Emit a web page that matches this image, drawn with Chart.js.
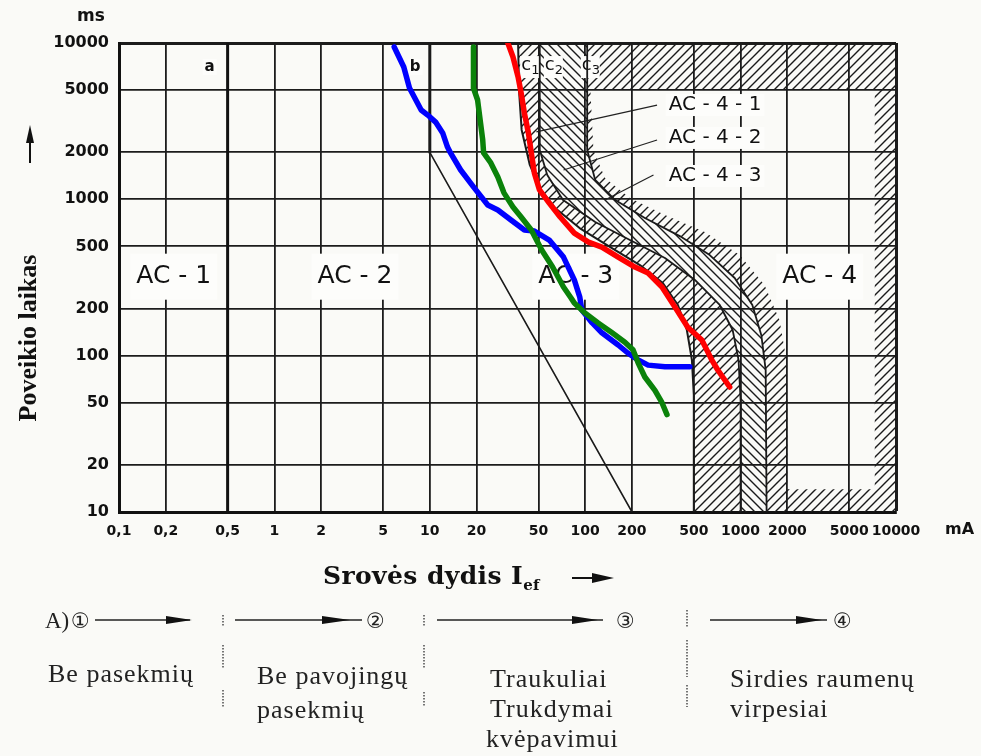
<!DOCTYPE html>
<html>
<head>
<meta charset="utf-8"/>
<style>
  html,body{margin:0;padding:0;background:#fafaf7;}
  #wrap{position:absolute;left:0;top:0;width:981px;height:756px;}
  #over{position:absolute;left:0;top:0;pointer-events:none;}
  .bt{font-family:"Liberation Serif",serif;font-size:26px;fill:#222;letter-spacing:1px;}
  .num{font-family:"DejaVu Sans",sans-serif;font-size:21px;fill:#222;}
</style>
</head>
<body>
<div id="wrap"><canvas id="c"></canvas></div>

<svg id="over" width="981" height="756" xmlns="http://www.w3.org/2000/svg">
  <!-- y axis title + arrow -->
  <text transform="translate(36,338) rotate(-90)" text-anchor="middle"
        font-family="Liberation Serif" font-weight="bold" font-size="26" fill="#111">Poveikio laikas</text>
  <line x1="30" y1="163" x2="30" y2="138" stroke="#111" stroke-width="2"/>
  <polygon points="26,143 30,125 34,143" fill="#111"/>

  <!-- x axis title + arrow -->
  <text x="323" y="584" font-family="DejaVu Serif" font-weight="bold" font-size="25" letter-spacing="0.4" fill="#111">Srovės dydis I<tspan font-size="15" dy="6">ef</tspan></text>
  <line x1="572" y1="578" x2="600" y2="578" stroke="#111" stroke-width="2"/>
  <polygon points="592,573 614,578 592,583" fill="#111"/>

  <!-- A) row -->
  <text x="45" y="628" font-family="Liberation Serif" font-size="23" fill="#222">A)</text>
  <text class="num" x="71" y="628">①</text>
  <line x1="95" y1="620" x2="190" y2="620" stroke="#222" stroke-width="1.6"/>
  <polygon points="166,616 192,620 166,624" fill="#111"/>

  <line x1="235" y1="620" x2="362" y2="620" stroke="#222" stroke-width="1.6"/>
  <polygon points="322,616 350,620 322,624" fill="#111"/>
  <text class="num" x="366" y="628">②</text>

  <line x1="437" y1="620" x2="603" y2="620" stroke="#222" stroke-width="1.6"/>
  <polygon points="572,616 598,620 572,624" fill="#111"/>
  <text class="num" x="616" y="628">③</text>

  <line x1="710" y1="620" x2="827" y2="620" stroke="#222" stroke-width="1.6"/>
  <polygon points="796,616 822,620 796,624" fill="#111"/>
  <text class="num" x="833" y="628">④</text>

  <!-- dotted separators -->
  <g stroke="#555" stroke-width="1.6" stroke-dasharray="1.5 1.5">
    <line x1="223" y1="615" x2="223" y2="626"/>
    <line x1="223" y1="645" x2="223" y2="668"/>
    <line x1="223" y1="690" x2="223" y2="707"/>
    <line x1="424" y1="615" x2="424" y2="626"/>
    <line x1="424" y1="645" x2="424" y2="669"/>
    <line x1="424" y1="692" x2="424" y2="707"/>
    <line x1="687" y1="610" x2="687" y2="628"/>
    <line x1="687" y1="640" x2="687" y2="677"/>
    <line x1="687" y1="685" x2="687" y2="707"/>
  </g>

  <!-- consequences -->
  <text class="bt" x="48" y="682">Be pasekmių</text>
  <text class="bt" x="257" y="684">Be pavojingų</text>
  <text class="bt" x="257" y="718">pasekmių</text>
  <text class="bt" x="490" y="687">Traukuliai</text>
  <text class="bt" x="490" y="717">Trukdymai</text>
  <text class="bt" x="486" y="747">kvėpavimui</text>
  <text class="bt" x="730" y="687">Sirdies raumenų</text>
  <text class="bt" x="730" y="717">virpesiai</text>
</svg>

<script src="https://cdn.jsdelivr.net/npm/chart.js@4.4.0/dist/chart.umd.min.js"></script>
<script>
// axis ticks
const xTicks      = [0.1, 0.2, 0.5, 1, 2, 5, 10, 20, 50, 100, 200, 500, 1000, 2000, 5000, 10000];
const xTickLabels = ['0,1','0,2','0,5','1','2','5','10','20','50','100','200','500','1000','2000','5000','10000'];
const yTicks      = [10, 20, 50, 100, 200, 500, 1000, 2000, 5000, 10000];
const yTickLabels = ['10','20','50','100','200','500','1000','2000','5000','10000'];

// coloured curves (mA , ms)
const blueX  = [5.9, 6.8, 7.4, 8.8, 9.7, 10.9, 12.1, 13.0, 13.6, 15.8, 19.1, 23.6, 27.4, 33.3, 40.6, 47.1, 58.7, 72.5, 85.1, 92.3, 95.1, 111, 128, 163, 188, 219, 254, 326, 471];
const blueY  = [9430, 7020, 5150, 3730, 3460, 3120, 2660, 2160, 1980, 1540, 1200, 919, 855, 737, 637, 627, 549, 427, 305, 237, 196, 162, 140, 117, 104, 94, 87, 85, 85];
const greenX = [19.1, 19.1, 19.1, 20.3, 21.2, 21.9, 22.2, 24.7, 27.4, 30.0, 34.3, 38.7, 45.0, 52.5, 61.7, 72.5, 81.1, 85.1, 100, 121, 149, 180, 203, 219, 242, 281, 312, 336];
const greenY = [9430, 7020, 5150, 4320, 3080, 2400, 1980, 1710, 1390, 1100, 893, 771, 637, 474, 369, 275, 234, 217, 187, 162, 140, 122, 109, 90, 73, 60, 50, 42];
const redX   = [31.8, 34.3, 37.0, 38.7, 40.6, 43.1, 45.0, 47.1, 50.8, 58.7, 69.0, 85.1, 105, 128, 163, 209, 254, 312, 378, 457, 563, 652, 713, 851];
const redY   = [10000, 8130, 6060, 4790, 3570, 2660, 1980, 1470, 1150, 947, 771, 608, 533, 495, 427, 369, 338, 275, 205, 152, 126, 94, 81, 63];

// zone boundaries
const aX  = [0.5, 0.5];
const aY  = [10, 10000];
const bX  = [10, 10, 200];
const bY  = [10000, 2000, 10];
const c1X = [37, 37.5, 39, 44, 51, 64, 92, 145, 225, 316, 395, 451, 486, 500, 500];
const c1Y = [10000, 5000, 2780, 1660, 1180, 880, 655, 495, 380, 291, 211, 146, 94, 56, 10];
const c2X = [51, 51, 57, 72, 116, 194, 326, 508, 734, 889, 970, 1000, 1000];
const c2Y = [10000, 2070, 1430, 990, 716, 549, 421, 305, 211, 146, 94, 52, 10];
const c3X = [103, 103, 116, 156, 242, 406, 633, 916, 1190, 1360, 1450, 1470];
const c3Y = [10000, 2070, 1330, 990, 759, 582, 440, 314, 211, 135, 81, 10];
// inner edge of the hatched rim of AC-4.3
const rimX = [108, 113, 134, 194, 326, 588, 986, 1425, 1780, 1970, 2000, 2000, 7300, 7300];
const rimY = [5000, 2070, 1370, 1020, 794, 618, 440, 283, 169, 94, 52, 14, 14, 5000];

// labels
const zoneNames = ['AC - 1', 'AC - 2', 'AC - 3', 'AC - 4'];
const zoneX     = [0.225, 3.3, 87, 3230];
const zoneY     = [320, 320, 320, 320];
const curveNames = ['a', 'b'];
const curveX     = [0.383, 8.05];
const curveY     = [7020, 7020];
const cNames = ['1', '2', '3'];
const cX     = [38.7, 55, 95];
const cY     = [7120, 7120, 7120];
const subNames = ['AC - 4 - 1', 'AC - 4 - 2', 'AC - 4 - 3'];
const subX     = [345, 345, 345];
const subY     = [4010, 2470, 1410];
const leadFromX = [290, 290, 275];
const leadFromY = [4010, 2395, 1430];
const leadToX   = [48.5, 72.5, 134];
const leadToY   = [2700, 1540, 990];

const pts = (xs, ys) => xs.map((v, i) => ({ x: v, y: ys[i] }));
const line = (xs, ys, color, w, extra) => Object.assign({
  data: pts(xs, ys), showLine: true, borderColor: color, borderWidth: w,
  pointRadius: 0, tension: 0, fill: false, borderCapStyle: 'round', borderJoinStyle: 'round'
}, extra || {});

function hatch(ctx, dir) {
  const c = document.createElement('canvas');
  const n = 9;
  c.width = c.height = n;
  const g = c.getContext('2d');
  g.strokeStyle = '#1a1a1a'; g.lineWidth = 1.4;
  g.beginPath();
  if (dir > 0) {
    g.moveTo(0, n); g.lineTo(n, 0);
    g.moveTo(-2, 2); g.lineTo(2, -2);
    g.moveTo(n - 2, n + 2); g.lineTo(n + 2, n - 2);
  } else {
    g.moveTo(0, 0); g.lineTo(n, n);
    g.moveTo(-2, n - 2); g.lineTo(2, n + 2);
    g.moveTo(n - 2, -2); g.lineTo(n + 2, 2);
  }
  g.stroke();
  return ctx.createPattern(c, 'repeat');
}

const hatchPlugin = {
  id: 'hatch',
  beforeDatasetsDraw(chart) {
    const { ctx, chartArea: a, scales: { x, y } } = chart;
    const P = (xs, ys) => xs.map((v, i) => [x.getPixelForValue(v), y.getPixelForValue(ys[i])]);
    const trace = p => p.forEach(([px, py], i) => i ? ctx.lineTo(px, py) : ctx.moveTo(px, py));
    ctx.save();
    ctx.beginPath(); ctx.rect(a.left, a.top, a.right - a.left, a.bottom - a.top); ctx.clip();
    // c1 .. c2
    ctx.beginPath(); trace(P(c1X, c1Y).concat(P(c2X, c2Y).reverse())); ctx.closePath();
    ctx.fillStyle = hatch(ctx, 1); ctx.fill();
    // c2 .. c3
    ctx.beginPath(); trace(P(c2X, c2Y).concat(P(c3X, c3Y).reverse())); ctx.closePath();
    ctx.fillStyle = hatch(ctx, -1); ctx.fill();
    // rim of AC-4.3
    ctx.beginPath();
    trace(P(c3X, c3Y).concat(P([x.max, x.max], [y.min, y.max]))); ctx.closePath();
    trace(P(rimX, rimY)); ctx.closePath();
    ctx.fillStyle = hatch(ctx, 1); ctx.fill('evenodd');
    ctx.restore();
  }
};

const labelPlugin = {
  id: 'labels',
  beforeDatasetsDraw(chart) {
    const { ctx, scales: { x, y } } = chart;
    ctx.save();
    ctx.textBaseline = 'middle';
    const boxed = (t, px, py, font, align, h, pad) => {
      ctx.font = font;
      const w = ctx.measureText(t).width;
      const left = align === 'center' ? px - w / 2 : px;
      ctx.fillStyle = '#fdfdfb';
      ctx.fillRect(left - pad, py - h / 2, w + pad * 2, h);
      ctx.fillStyle = '#111';
      ctx.textAlign = 'left';
      ctx.fillText(t, left, py);
    };
    zoneNames.forEach((t, i) => boxed(t, x.getPixelForValue(zoneX[i]), y.getPixelForValue(zoneY[i]),
      '25px "DejaVu Sans"', 'center', 46, 6));
    curveNames.forEach((t, i) => boxed(t, x.getPixelForValue(curveX[i]), y.getPixelForValue(curveY[i]),
      'bold 15px "DejaVu Sans"', 'center', 16, 2));
    cNames.forEach((t, i) => {
      const px = x.getPixelForValue(cX[i]), py = y.getPixelForValue(cY[i]);
      ctx.fillStyle = '#fdfdfb';
      ctx.fillRect(px - 1, py - 10, 19, 22);
      ctx.fillStyle = '#111'; ctx.textAlign = 'left';
      ctx.font = '18px "DejaVu Sans"'; ctx.fillText('c', px, py - 1);
      ctx.font = '13px "DejaVu Sans"'; ctx.fillText(t, px + 10, py + 5);
    });
    subNames.forEach((t, i) => boxed(t, x.getPixelForValue(subX[i]), y.getPixelForValue(subY[i]),
      '20px "DejaVu Sans"', 'left', 22, 3));
    ctx.restore();
  },
  afterDraw(chart) {
    const { ctx, chartArea: a } = chart;
    ctx.save();
    ctx.fillStyle = '#111';
    ctx.font = 'bold 17px "DejaVu Sans"';
    ctx.textBaseline = 'middle';
    ctx.textAlign = 'center';
    ctx.fillText('ms', a.left - 28, a.top - 26);
    ctx.textAlign = 'left';
    ctx.font = 'bold 16px "DejaVu Sans"';
    ctx.fillText('mA', a.right + 49, a.bottom + 18);
    ctx.restore();
  }
};

const leaderSets = leadFromX.map((v, i) =>
  line([v, leadToX[i]], [leadFromY[i], leadToY[i]], '#222', 1.2, { borderCapStyle: 'butt' }));

new Chart(document.getElementById('c'), {
  type: 'scatter',
  data: {
    datasets: [
      line(redX, redY, '#ff0000', 5.5),
      line(greenX, greenY, '#0a820a', 5.5),
      line(blueX, blueY, '#0000ff', 5.5),
      line(c1X, c1Y, '#1a1a1a', 2),
      line(c2X, c2Y, '#1a1a1a', 1.8),
      line(c3X, c3Y, '#1a1a1a', 1.8),
      line(aX, aY, '#111', 3, { borderCapStyle: 'butt' }),
      line(bX, bY, '#1a1a1a', 1.6, { segment: { borderWidth: c => c.p0DataIndex === 0 ? 3 : 1.6 } }),
      ...leaderSets
    ]
  },
  options: {
    responsive: true,
    maintainAspectRatio: false,
    animation: false,
    layout: { padding: { left: 0, top: 43, right: 85, bottom: 214 } },
    plugins: { legend: { display: false }, tooltip: { enabled: false } },
    scales: {
      x: {
        type: 'logarithmic', min: 0.1, max: 10000,
        afterBuildTicks: s => { s.ticks = xTicks.map(v => ({ value: v })); },
        afterFit: s => { s.height = 30; },
        ticks: {
          callback: (v, i) => xTickLabels[i], autoSkip: false, maxRotation: 0, minRotation: 0,
          padding: 11, color: '#111', font: { family: 'DejaVu Sans', weight: 'bold', size: 14 }
        },
        grid: { color: '#1c1c1c', lineWidth: c => (c.tick && (c.tick.value === 10000)) ? 3 : 1.8, drawTicks: false },
        border: { color: '#111', width: 3 }
      },
      y: {
        type: 'logarithmic', min: 10, max: 10000,
        afterBuildTicks: s => { s.ticks = yTicks.map(v => ({ value: v })); },
        afterFit: s => { s.width = 119; },
        ticks: {
          callback: (v, i) => yTickLabels[i], autoSkip: false,
          padding: 10, color: '#111', font: { family: 'DejaVu Sans', weight: 'bold', size: 16 }
        },
        grid: { color: '#1c1c1c', lineWidth: c => (c.tick && (c.tick.value === 10000)) ? 3 : 1.8, drawTicks: false },
        border: { color: '#111', width: 3 }
      }
    }
  },
  plugins: [hatchPlugin, labelPlugin]
});
</script>
</body>
</html>
